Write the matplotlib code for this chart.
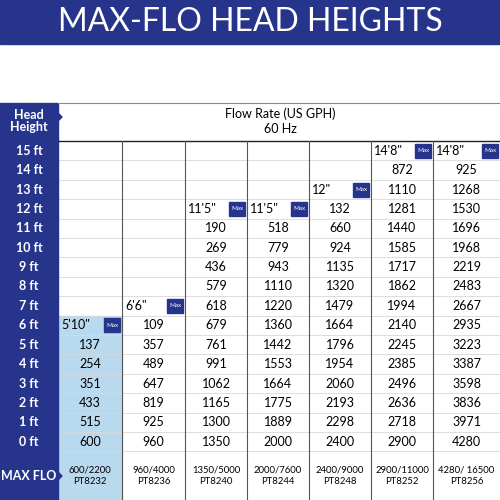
import matplotlib
matplotlib.use("Agg")
import matplotlib.pyplot as plt
from matplotlib.patches import Rectangle, Polygon

heights = [f"{h} ft" for h in range(15, -1, -1)]
models = ["PT8232", "PT8236", "PT8240", "PT8244", "PT8248", "PT8252", "PT8256"]
maxflo = ["600/2200", "960/4000", "1350/5000", "2000/7600", "2400/9000", "2900/11000", "4280/ 16500"]
max_labels = ['5\'10"', "6'6\"", "11'5\"", "11'5\"", '12"', "14'8\"", "14'8\""]
# flow values from 0 ft upward
flows = [
    [600, 515, 433, 351, 254, 137],
    [960, 925, 819, 647, 489, 357, 109],
    [1350, 1300, 1165, 1062, 991, 761, 679, 618, 579, 436, 269, 190],
    [2000, 1889, 1775, 1664, 1553, 1442, 1360, 1220, 1110, 943, 779, 518],
    [2400, 2298, 2193, 2060, 1954, 1796, 1664, 1479, 1320, 1135, 924, 660, 132],
    [2900, 2718, 2636, 2496, 2385, 2245, 2140, 1994, 1862, 1717, 1585, 1440, 1281, 1110, 872],
    [4280, 3971, 3836, 3598, 3387, 3223, 2935, 2667, 2483, 2219, 1968, 1696, 1530, 1268, 925],
]

NAVY = "#27348b"
LB = "#b9d9ef"
plt.rcParams['font.family'] = ['Lato', 'DejaVu Sans']
fig = plt.figure(figsize=(5, 5), dpi=100)
ax = fig.add_axes([0, 0, 1, 1])
ax.set_xlim(0, 500); ax.set_ylim(500, 0); ax.axis('off')

ax.add_patch(Rectangle((0, 0), 500, 44, color=NAVY))
ax.text(250, 22, "MAX-FLO HEAD HEIGHTS", color="white", fontsize=23, ha="center", va="center")

xs = [58, 122, 185, 247, 309, 371, 433, 500]
top, hdr_bot, row_h = 103, 141, 19.4
rows_bot = hdr_bot + 16 * row_h
ax.add_patch(Rectangle((0, top), 58, 500 - top, color=NAVY))
ax.add_patch(Polygon([[58, 113], [62, 117], [58, 121]], color=NAVY))
ax.add_patch(Polygon([[58, 472], [62, 476], [58, 480]], color=NAVY))
ax.text(29, 121, "Head\nHeight", color="white", fontsize=9, ha="center", va="center", linespacing=1.0, fontweight="bold")
for i, h in enumerate(heights):
    ax.text(29, hdr_bot + (i + 0.5) * row_h, h, color="white", fontsize=9, ha="center", va="center", fontweight="bold")
ax.text(29, 476, "MAX FLO", color="white", fontsize=9, ha="center", va="center", fontweight="bold")

ax.text(280, 114, "Flow Rate (US GPH)", fontsize=9, ha="center", va="center")
ax.text(280, 129, "60 Hz", fontsize=9, ha="center", va="center")
ax.plot([58, 500], [hdr_bot, hdr_bot], color="#222", lw=1)
ax.plot([58, 500], [top, top], color="#888", lw=0.8)

n1 = len(flows[0])
ax.add_patch(Rectangle((xs[0], rows_bot - (n1 + 1) * row_h), xs[1] - xs[0], 500 - (rows_bot - (n1 + 1) * row_h), color=LB, zorder=0))

for i in range(17):
    y = hdr_bot + i * row_h
    ax.plot([58, 500], [y, y], color="#d8d8d8", lw=0.6, zorder=0.5)
for x in xs[1:-1]:
    ax.plot([x, x], [hdr_bot, 500], color="#555", lw=0.8)

for c, vals in enumerate(flows):
    cx = (xs[c] + xs[c + 1]) / 2
    for k, v in enumerate(vals):
        ax.text(cx, rows_bot - (k + 0.5) * row_h, str(v), fontsize=9, ha="center", va="center")
    ym = rows_bot - (len(vals) + 0.5) * row_h
    ax.text(xs[c] + 3, ym, max_labels[c], fontsize=9, ha="left", va="center")
    ax.add_patch(Rectangle((xs[c + 1] - 18, ym - 7), 16, 14, color=NAVY))
    ax.text(xs[c + 1] - 10, ym, "Max", fontsize=4.5, color="white", ha="center", va="center")
    ax.text(cx, 476, maxflo[c] + "\n" + models[c], fontsize=6.8, ha="center", va="center", linespacing=1.4)

fig.savefig("out.png", dpi=100)
